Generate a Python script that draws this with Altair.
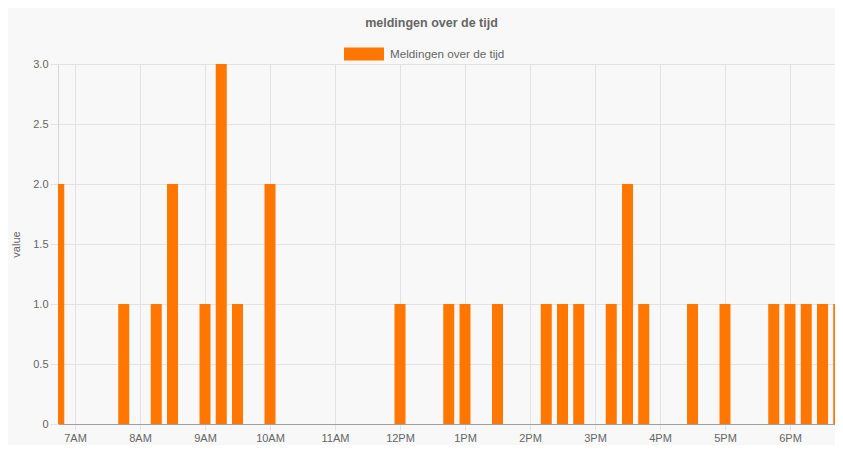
import altair as alt
import pandas as pd

# Data (15-minute buckets)
times = ["06:45", "07:45", "08:15", "08:30", "09:00", "09:15", "09:30", "10:00",
         "12:00", "12:45", "13:00", "13:30", "14:15", "14:30", "14:45",
         "15:15", "15:30", "15:45", "16:30", "17:00",
         "17:45", "18:00", "18:15", "18:30", "18:45"]
values = [2, 1, 1, 2, 1, 3, 1, 2,
          1, 1, 1, 1, 1, 1, 1,
          1, 2, 1, 1, 1,
          1, 1, 1, 1, 1]
series_name = "Meldingen over de tijd"
hour_ticks = list(range(7, 19))
y_ticks = [0, 0.5, 1.0, 1.5, 2.0, 2.5, 3.0]


def to_hours(s):
    h, m = s.split(":")
    return int(h) + int(m) / 60.0


df = pd.DataFrame({
    "hour": [to_hours(t) for t in times],
    "value": values,
    "serie": [series_name] * len(times),
})

orange = "#FF7600"
grey_text = "#666666"
grid = "#e2e2e2"

x_domain = [to_hours("06:44") + 18 / 3600.0, to_hours("18:41") + 32 / 3600.0]

chart = alt.Chart(df).mark_bar(width=11, clip=True, color=orange).encode(
    x=alt.X(
        "hour:Q",
        scale=alt.Scale(domain=x_domain, nice=False, zero=False, padding=0),
        axis=alt.Axis(
            values=hour_ticks,
            labelExpr="(datum.value % 12 == 0 ? 12 : datum.value % 12) + (datum.value < 12 ? 'AM' : 'PM')",
            title=None,
            grid=True, gridColor=grid, tickColor=grid, tickSize=6,
            domainColor="#a0a0a0", labelColor=grey_text, labelFontSize=11,
            labelFont="Liberation Sans", labelPadding=2, labelFlush=False,
        ),
    ),
    y=alt.Y(
        "value:Q",
        scale=alt.Scale(domain=[0, 3], nice=False),
        axis=alt.Axis(
            values=y_ticks, title="value",
            labelExpr="datum.value == 0 ? '0' : format(datum.value, '.1f')",
            grid=True, gridColor=grid, tickColor=grid, tickSize=8,
            domainColor="#d6d6d6", labelColor=grey_text, labelFontSize=11,
            labelFont="Liberation Sans", labelPadding=2,
            titleColor=grey_text, titleFont="Liberation Sans", titleFontSize=11,
            titleFontWeight="normal", titlePadding=11,
        ),
    ),
    color=alt.Color(
        "serie:N",
        scale=alt.Scale(domain=[series_name], range=[orange]),
        legend=alt.Legend(
            title=None, orient="none", legendX=286, legendY=-30, padding=0,
            symbolType="M-1,-0.325H1V0.325H-1Z", symbolSize=1600,
            symbolStrokeWidth=0, symbolOpacity=1,
            labelColor=grey_text, labelFont="Liberation Sans", labelFontSize=11.7,
            labelOffset=6,
        ),
    ),
).properties(
    width=777,
    height=360,
    autosize=alt.AutoSizeParams(type="none"),
    padding={"left": 50, "top": 56, "right": 0, "bottom": 21},
    background="#f8f8f8",
    title=alt.TitleParams(
        "meldingen over de tijd", anchor="middle", frame="group", offset=5, dx=-15,
        font="Liberation Sans", fontSize=12.5, fontWeight="bold", color=grey_text,
    ),
).configure_view(stroke=None)

chart.save("out.html", embed_options={"renderer": "svg", "actions": False})
